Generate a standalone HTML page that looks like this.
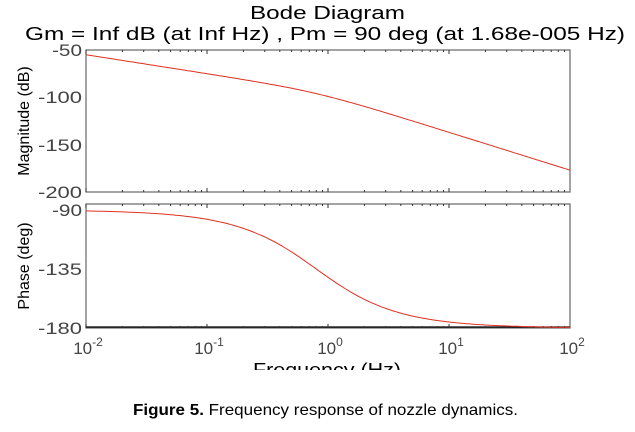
<!DOCTYPE html>
<html><head><style>
body{margin:0;background:#fff;width:635px;height:427px;overflow:hidden;font-family:"Liberation Sans",sans-serif}
</style></head><body>
<svg id="s" width="635" height="427" xmlns="http://www.w3.org/2000/svg" font-family="Liberation Sans, sans-serif">
<text x="250" y="19" font-size="18" textLength="155" lengthAdjust="spacingAndGlyphs">Bode Diagram</text>
<text x="25" y="40" font-size="18" textLength="600" lengthAdjust="spacingAndGlyphs">Gm = Inf dB (at Inf Hz) ,  Pm = 90 deg (at 1.68e-005 Hz)</text>
<rect x="86" y="50" width="484" height="142" fill="none" stroke="#666" stroke-width="1.2"/>
<rect x="86" y="204" width="484" height="124" fill="none" stroke="#666" stroke-width="1.2"/>
<line x1="86" y1="327" x2="570" y2="327" stroke="#000" stroke-width="1.2"/>
<g font-size="17" fill="#444" lengthAdjust="spacingAndGlyphs">
<text x="52" y="56" textLength="30" lengthAdjust="spacingAndGlyphs">-50</text>
<text x="38" y="103" textLength="44" lengthAdjust="spacingAndGlyphs">-100</text>
<text x="38" y="151" textLength="44" lengthAdjust="spacingAndGlyphs">-150</text>
<text x="38" y="198" textLength="44" lengthAdjust="spacingAndGlyphs">-200</text>
<text x="52" y="216" textLength="30" lengthAdjust="spacingAndGlyphs">-90</text>
<text x="38" y="275" textLength="44" lengthAdjust="spacingAndGlyphs">-135</text>
<text x="38" y="334" textLength="44" lengthAdjust="spacingAndGlyphs">-180</text>
</g>
<g font-size="17" fill="#444" text-anchor="middle">
<text x="88" y="354">10<tspan dy="-8" font-size="12">-2</tspan></text>
<text x="209" y="354">10<tspan dy="-8" font-size="12">-1</tspan></text>
<text x="330" y="354">10<tspan dy="-8" font-size="12">0</tspan></text>
<text x="451" y="354">10<tspan dy="-8" font-size="12">1</tspan></text>
<text x="572" y="354">10<tspan dy="-8" font-size="12">2</tspan></text>
</g>
<text x="253" y="376" font-size="18" textLength="148" lengthAdjust="spacingAndGlyphs">Frequency  (Hz)</text>
<rect x="200" y="370" width="260" height="10" fill="#fff"/>
<text transform="translate(29,121) rotate(-90)" font-size="16" text-anchor="middle">Magnitude (dB)</text>
<text transform="translate(29,266) rotate(-90)" font-size="16" text-anchor="middle">Phase (deg)</text>
<text x="133" y="415" font-size="16" textLength="385" lengthAdjust="spacingAndGlyphs"><tspan font-weight="bold">Figure 5.</tspan> Frequency response of nozzle dynamics.</text>
<g id="t" stroke="#333" stroke-width="1"></g>
<path id="m" fill="none" stroke="#e03020" stroke-width="1"/>
<path id="p" fill="none" stroke="#e03020" stroke-width="1"/>
</svg>
<script>
var fx=function(l){return 86+(l+2)*121};
var dm="",dp="";
for(var i=0;i<=200;i++){var l=-2+i*0.02,f=Math.pow(10,l),fc=0.8;
var m=-95-20*l-10*Math.log10(1+(f/fc)*(f/fc));
var p=-90-Math.atan(f/fc)*180/Math.PI;
var x=fx(l).toFixed(1);
dm+=(i?"L":"M")+x+","+(50+(-50-m)*142/150).toFixed(1);
dp+=(i?"L":"M")+x+","+(210+(-90-p)*118/90).toFixed(1);}
document.getElementById("m").setAttribute("d",dm);
document.getElementById("p").setAttribute("d",dp);
var t="";
for(var d=-2;d<2;d++)for(var k=1;k<10;k++){var x=fx(d+Math.log10(k)).toFixed(1),L=k==1?4:2;
[[50,1],[192,-1],[204,1],[328,-1]].forEach(function(a){t+='<line x1="'+x+'" x2="'+x+'" y1="'+a[0]+'" y2="'+(a[0]+a[1]*L)+'"/>';});}
document.getElementById("t").innerHTML=t;
</script>
</body></html>
